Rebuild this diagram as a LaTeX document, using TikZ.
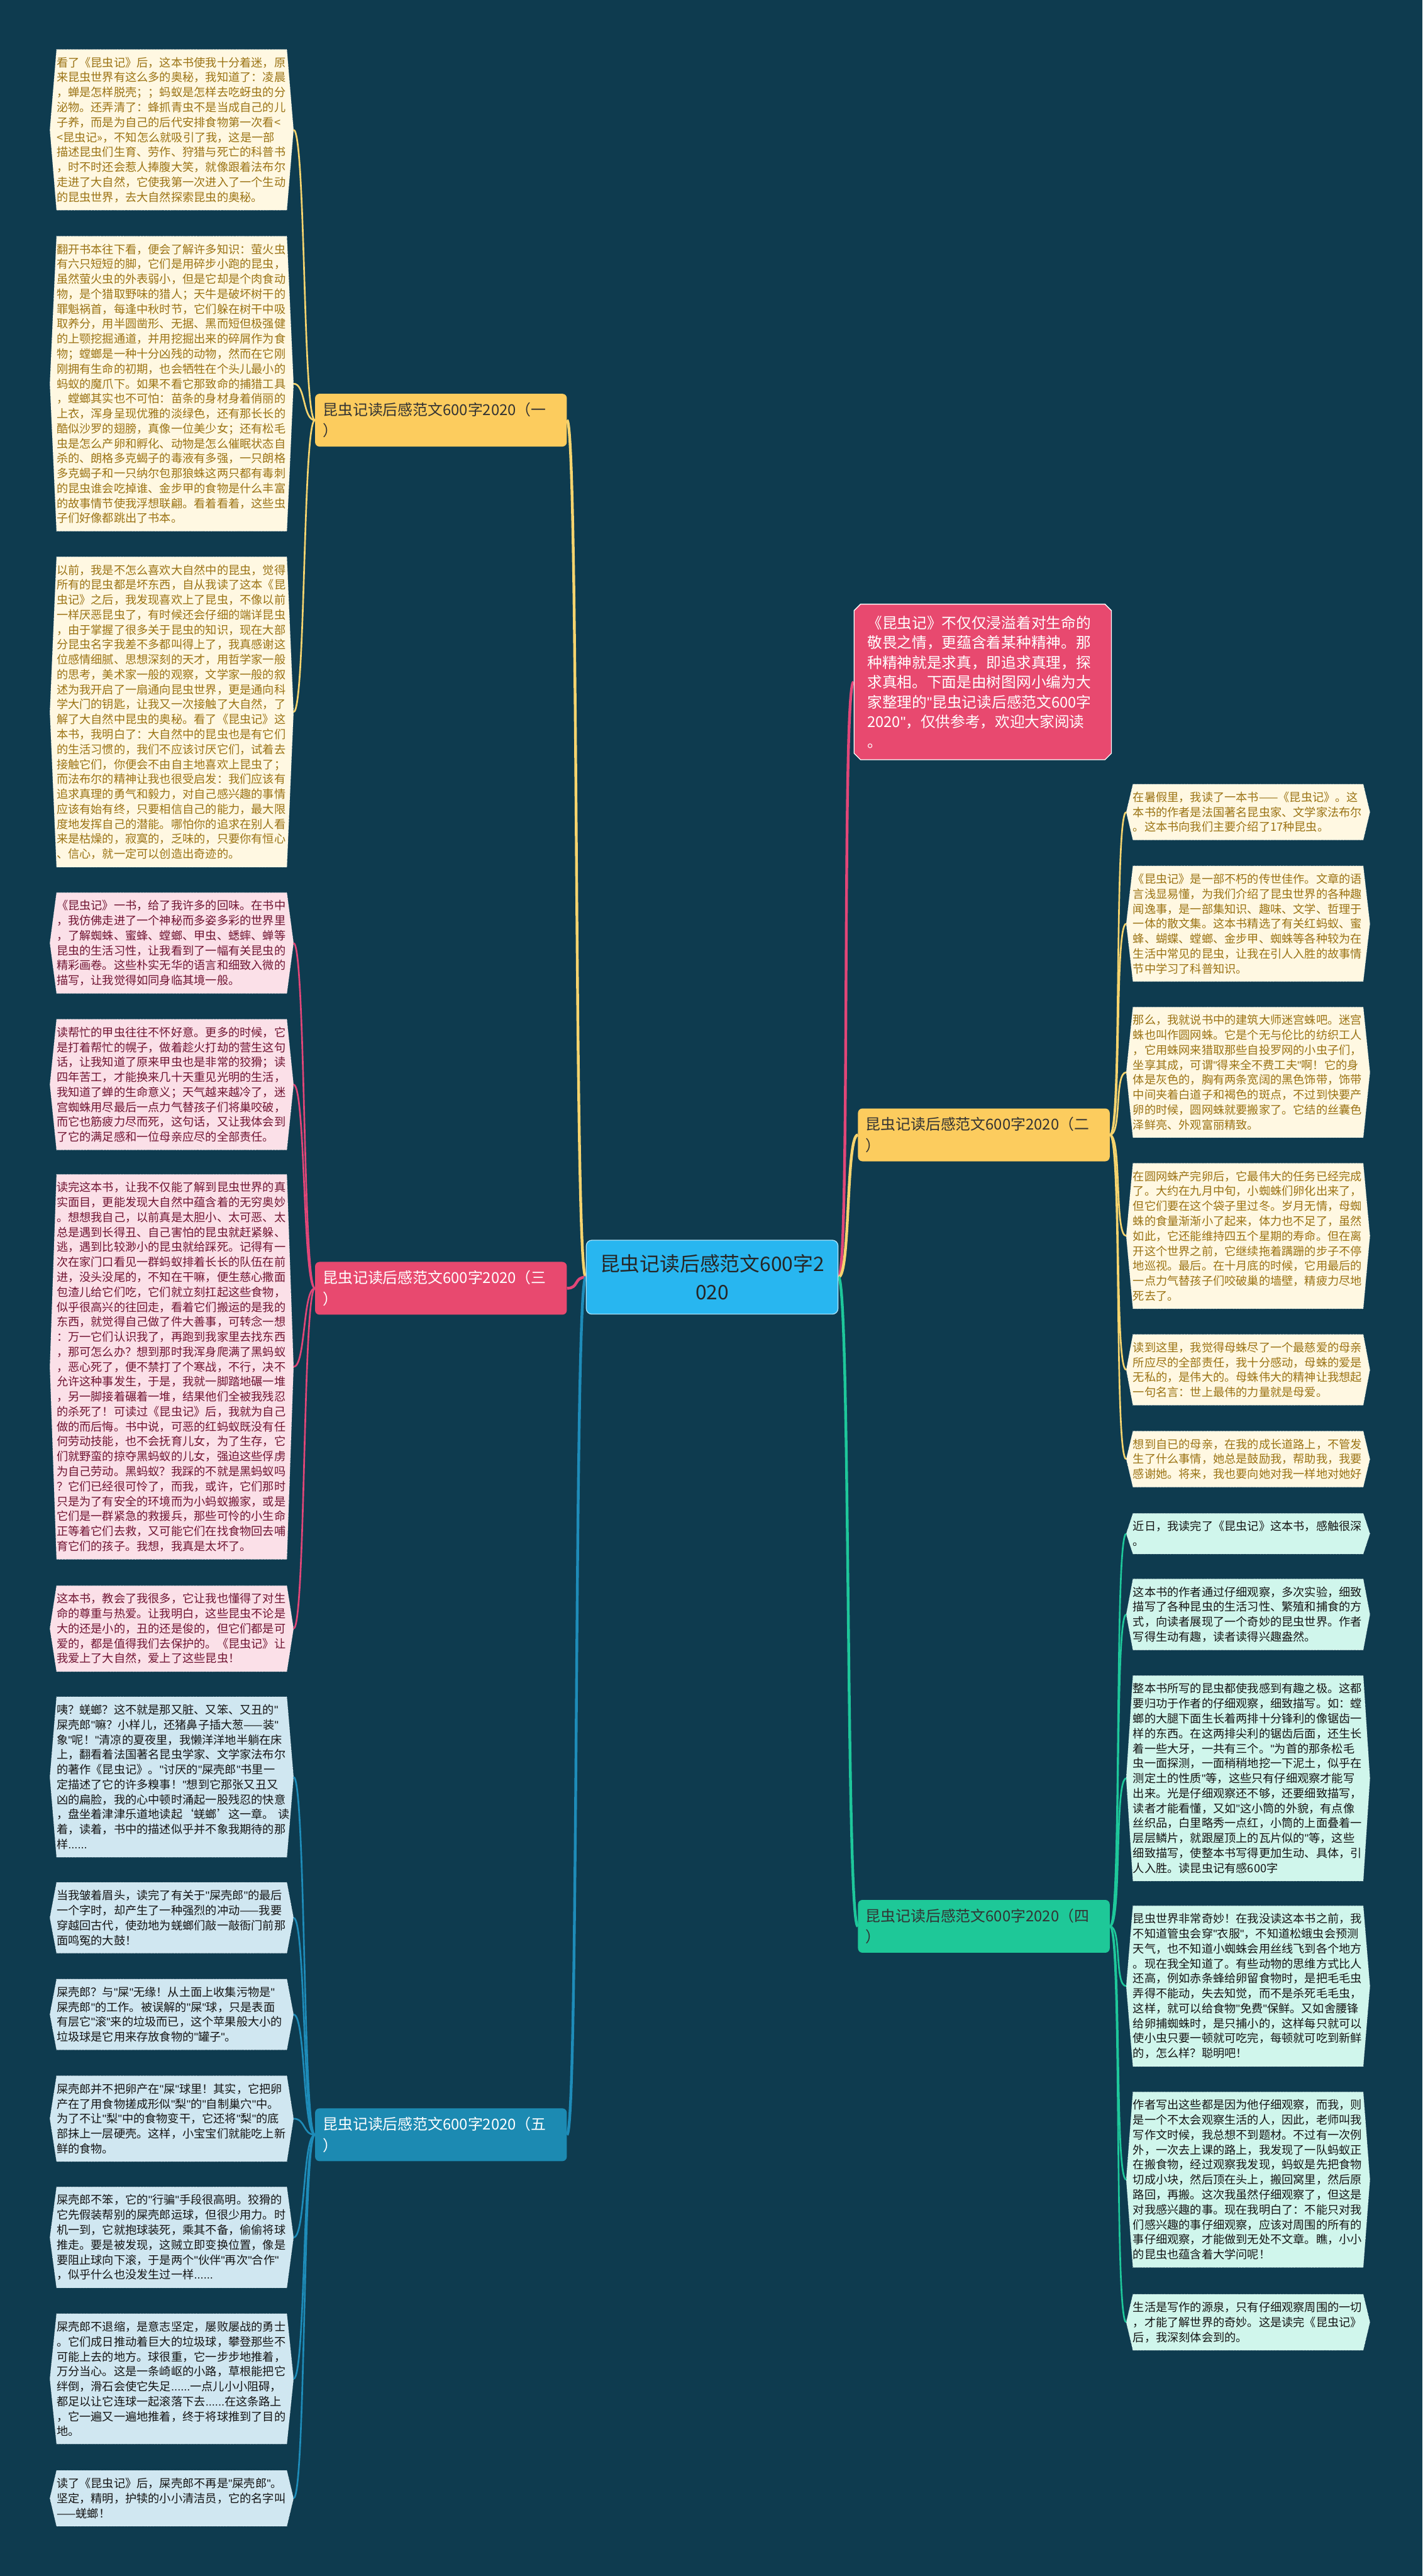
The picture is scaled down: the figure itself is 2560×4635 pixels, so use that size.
\documentclass[tikz,border=0pt]{standalone}
\usepackage{fontspec}
\setmainfont{Noto Sans CJK SC}
\newfontfamily\latinf{Liberation Sans}
\XeTeXdashbreakstate=0
\usetikzlibrary{backgrounds,shapes.misc}
\definecolor{bgc}{RGB}{14,59,79}
\definecolor{fillyl}{RGB}{255,248,226}
\definecolor{txtyl}{RGB}{155,115,20}
\definecolor{fillpk}{RGB}{251,224,232}
\definecolor{txtpk}{RGB}{112,20,50}
\definecolor{fillbl}{RGB}{208,231,241}
\definecolor{txtbl}{RGB}{20,20,20}
\definecolor{fillgr}{RGB}{208,246,236}
\definecolor{txtgr}{RGB}{20,20,20}
\definecolor{lnyl}{RGB}{246,212,110}
\definecolor{lnpk}{RGB}{226,70,120}
\definecolor{lnbl}{RGB}{30,140,185}
\definecolor{lngr}{RGB}{30,200,155}
\definecolor{rootc}{RGB}{40,182,240}
\definecolor{brpk}{RGB}{232,73,111}
\definecolor{bryl}{RGB}{252,204,94}
\definecolor{brbl}{RGB}{28,138,178}
\definecolor{brgr}{RGB}{30,200,152}
\newcommand\q{{\latinf"}}
\newcommand\sixdots{{\latinf......}}
\newcommand\leaffont{\fontsize{20.6bp}{26.9bp}\selectfont}
\newcommand\leafbox[5]{%
  \node[leafnode, text=txt#4] (#1) at (#2,#3) {#5};
  \coordinate (#1-r) at ([xshift=12bp]#1.east);
  \coordinate (#1-l) at ([xshift=-12bp]#1.west);
  \begin{scope}[on background layer]
    \path[fill=fill#4, draw=white, dotted, line width=0.8bp]
      (#1.north west) -- (#1.north east) -- (#1-r) -- (#1.south east)
      -- (#1.south west) -- (#1-l) -- cycle;
  \end{scope}
}
\begin{document}
\begin{tikzpicture}[x=1bp,y=-1bp,
  leafnode/.style={anchor=north, text width=414bp, inner xsep=0pt, inner ysep=13.5bp, align=left, font=\leaffont},
  branchnode/.style={rounded corners=8bp, minimum width=453bp, minimum height=95bp, text width=425bp, inner xsep=14bp, align=left, font=\fontsize{27bp}{38bp}\selectfont},
  conn/.style={line width=3bp},
  mainconn/.style={line width=5bp}]
\begin{scope}[on background layer]
\fill[bgc] (0,0) rectangle (2560,4635);
\end{scope}
\useasboundingbox (0,0) rectangle (2560,4635);

% root and branches
\node[rounded corners=10bp, fill=rootc, draw=white!60!rootc, line width=1.5bp, minimum width=453bp, minimum height=133bp, text width=420bp, align=center, font=\fontsize{36bp}{50bp}\selectfont, text=black!85] (root) at (1281.5,2298) {昆虫记读后感范文600字2\\020};
\node[branchnode, fill=bryl, text=black!80] (b1) at (793.5,756) {昆虫记读后感范文600字2020（一\\）};
\node[branchnode, fill=brpk, text=white] (b3) at (793.5,2318) {昆虫记读后感范文600字2020（三\\）};
\node[branchnode, fill=brbl, text=white] (b5) at (793.5,3841) {昆虫记读后感范文600字2020（五\\）};
\node[branchnode, fill=bryl, text=black!80] (b2) at (1770.5,2042) {昆虫记读后感范文600字2020（二\\）};
\node[branchnode, fill=brgr, text=black!80] (b4) at (1770.5,3466) {昆虫记读后感范文600字2020（四\\）};
\node[chamfered rectangle, chamfered rectangle xsep=8bp, fill=brpk, draw=white, line width=1.5bp, minimum width=447bp, minimum height=280bp, text width=415bp, inner xsep=16bp, align=left, text=white, font=\fontsize{26.8bp}{35.7bp}\selectfont] (intro) at (1768.5,1227) {《昆虫记》不仅仅浸溢着对生命的\\敬畏之情，更蕴含着某种精神。那\\种精神就是求真，即追求真理，探\\求真相。下面是由树图网小编为大\\家整理的\q{}昆虫记读后感范文600字\\2020\q{}，仅供参考，欢迎大家阅读\\。};

% left leaves
\leafbox{L1}{309}{89}{yl}{看了《昆虫记》后，这本书使我十分着迷，原\\来昆虫世界有这么多的奥秘，我知道了：凌晨\\，蝉是怎样脱壳；；蚂蚁是怎样去吃蚜虫的分\\泌物。还弄清了：蜂抓青虫不是当成自己的儿\\子养，而是为自己的后代安排食物第一次看<\\<昆虫记>>，不知怎么就吸引了我，这是一部\\描述昆虫们生育、劳作、狩猎与死亡的科普书\\，时不时还会惹人捧腹大笑，就像跟着法布尔\\走进了大自然，它使我第一次进入了一个生动\\的昆虫世界，去大自然探索昆虫的奥秘。}
\leafbox{L2}{309}{425}{yl}{翻开书本往下看，便会了解许多知识：萤火虫\\有六只短短的脚，它们是用碎步小跑的昆虫，\\虽然萤火虫的外表弱小，但是它却是个肉食动\\物，是个猎取野味的猎人；天牛是破坏树干的\\罪魁祸首，每逢中秋时节，它们躲在树干中吸\\取养分，用半圆凿形、无据、黑而短但极强健\\的上颚挖掘通道，并用挖掘出来的碎屑作为食\\物；螳螂是一种十分凶残的动物，然而在它刚\\刚拥有生命的初期，也会牺牲在个头儿最小的\\蚂蚁的魔爪下。如果不看它那致命的捕猎工具\\，螳螂其实也不可怕：苗条的身材身着俏丽的\\上衣，浑身呈现优雅的淡绿色，还有那长长的\\酷似沙罗的翅膀，真像一位美少女；还有松毛\\虫是怎么产卵和孵化、动物是怎么催眠状态自\\杀的、朗格多克蝎子的毒液有多强，一只朗格\\多克蝎子和一只纳尔包那狼蛛这两只都有毒刺\\的昆虫谁会吃掉谁、金步甲的食物是什么丰富\\的故事情节使我浮想联翩。看着看着，这些虫\\子们好像都跳出了书本。}
\leafbox{L3}{309}{1002}{yl}{以前，我是不怎么喜欢大自然中的昆虫，觉得\\所有的昆虫都是坏东西，自从我读了这本《昆\\虫记》之后，我发现喜欢上了昆虫，不像以前\\一样厌恶昆虫了，有时候还会仔细的端详昆虫\\，由于掌握了很多关于昆虫的知识，现在大部\\分昆虫名字我差不多都叫得上了，我真感谢这\\位感情细腻、思想深刻的天才，用哲学家一般\\的思考，美术家一般的观察，文学家一般的叙\\述为我开启了一扇通向昆虫世界，更是通向科\\学大门的钥匙，让我又一次接触了大自然，了\\解了大自然中昆虫的奥秘。看了《昆虫记》这\\本书，我明白了：大自然中的昆虫也是有它们\\的生活习惯的，我们不应该讨厌它们，试着去\\接触它们，你便会不由自主地喜欢上昆虫了；\\而法布尔的精神让我也很受启发：我们应该有\\追求真理的勇气和毅力，对自己感兴趣的事情\\应该有始有终，只要相信自己的能力，最大限\\度地发挥自己的潜能。哪怕你的追求在别人看\\来是枯燥的，寂寞的，乏味的，只要你有恒心\\、信心，就一定可以创造出奇迹的。}
\leafbox{L4}{309}{1606}{pk}{《昆虫记》一书，给了我许多的回味。在书中\\，我仿佛走进了一个神秘而多姿多彩的世界里\\，了解蜘蛛、蜜蜂、螳螂、甲虫、蟋蟀、蝉等\\昆虫的生活习性，让我看到了一幅有关昆虫的\\精彩画卷。这些朴实无华的语言和细致入微的\\描写，让我觉得如同身临其境一般。}
\leafbox{L5}{309}{1834}{pk}{读帮忙的甲虫往往不怀好意。更多的时候，它\\是打着帮忙的幌子，做着趁火打劫的营生这句\\话，让我知道了原来甲虫也是非常的狡猾；读\\四年苦工，才能换来几十天重见光明的生活，\\我知道了蝉的生命意义；天气越来越冷了，迷\\宫蜘蛛用尽最后一点力气替孩子们将巢咬破，\\而它也筋疲力尽而死，这句话，又让我体会到\\了它的满足感和一位母亲应尽的全部责任。}
\leafbox{L6}{309}{2113}{pk}{读完这本书，让我不仅能了解到昆虫世界的真\\实面目，更能发现大自然中蕴含着的无穷奥妙\\。想想我自己，以前真是太胆小、太可恶、太\\总是遇到长得丑、自己害怕的昆虫就赶紧躲、\\逃，遇到比较渺小的昆虫就给踩死。记得有一\\次在家门口看见一群蚂蚁排着长长的队伍在前\\进，没头没尾的，不知在干嘛，便生慈心撒面\\包渣儿给它们吃，它们就立刻扛起这些食物，\\似乎很高兴的往回走，看着它们搬运的是我的\\东西，就觉得自己做了件大善事，可转念一想\\：万一它们认识我了，再跑到我家里去找东西\\，那可怎么办？想到那时我浑身爬满了黑蚂蚁\\，恶心死了，便不禁打了个寒战，不行，决不\\允许这种事发生，于是，我就一脚踏地碾一堆\\，另一脚接着碾着一堆，结果他们全被我残忍\\的杀死了！可读过《昆虫记》后，我就为自己\\做的而后悔。书中说，可恶的红蚂蚁既没有任\\何劳动技能，也不会抚育儿女，为了生存，它\\们就野蛮的掠夺黑蚂蚁的儿女，强迫这些俘虏\\为自己劳动。黑蚂蚁？我踩的不就是黑蚂蚁吗\\？它们已经很可怜了，而我，或许，它们那时\\只是为了有安全的环境而为小蚂蚁搬家，或是\\它们是一群紧急的救援兵，那些可怜的小生命\\正等着它们去救，又可能它们在找食物回去哺\\育它们的孩子。我想，我真是太坏了。}
\leafbox{L7}{309}{2853}{pk}{这本书，教会了我很多，它让我也懂得了对生\\命的尊重与热爱。让我明白，这些昆虫不论是\\大的还是小的，丑的还是俊的，但它们都是可\\爱的，都是值得我们去保护的。《昆虫记》让\\我爱上了大自然，爱上了这些昆虫！}
\leafbox{L8}{309}{3053}{bl}{咦？蜣螂？这不就是那又脏、又笨、又丑的\q{}\\屎壳郎\q{}嘛？小样儿，还猪鼻子插大葱——装\q{}\\象\q{}呢！\q{}清凉的夏夜里，我懒洋洋地半躺在床\\上，翻看着法国著名昆虫学家、文学家法布尔\\的著作《昆虫记》。\q{}讨厌的\q{}屎壳郎\q{}书里一\\定描述了它的许多糗事！\q{}想到它那张又丑又\\凶的扁脸，我的心中顿时涌起一股残忍的快意\\，盘坐着津津乐道地读起‘蜣螂’这一章。~读\\着，读着，书中的描述似乎并不象我期待的那\\样\sixdots}
\leafbox{L9}{309}{3387}{bl}{当我皱着眉头，读完了有关于\q{}屎壳郎\q{}的最后\\一个字时，却产生了一种强烈的冲动——我要\\穿越回古代，使劲地为蜣螂们敲一敲衙门前那\\面鸣冤的大鼓！}
\leafbox{L10}{309}{3561}{bl}{屎壳郎？与\q{}屎\q{}无缘！从土面上收集污物是\q{}\\屎壳郎\q{}的工作。被误解的\q{}屎\q{}球，只是表面\\有层它\q{}滚\q{}来的垃圾而已，这个苹果般大小的\\垃圾球是它用来存放食物的\q{}罐子\q{}。}
\leafbox{L11}{309}{3735}{bl}{屎壳郎并不把卵产在\q{}屎\q{}球里！其实，它把卵\\产在了用食物搓成形似\q{}梨\q{}的\q{}自制巢穴\q{}中。\\为了不让\q{}梨\q{}中的食物变干，它还将\q{}梨\q{}的底\\部抹上一层硬壳。这样，小宝宝们就能吃上新\\鲜的食物。}
\leafbox{L12}{309}{3935}{bl}{屎壳郎不笨，它的\q{}行骗\q{}手段很高明。狡猾的\\它先假装帮别的屎壳郎运球，但很少用力。时\\机一到，它就抱球装死，乘其不备，偷偷将球\\推走。要是被发现，这贼立即变换位置，像是\\要阻止球向下滚，于是两个\q{}伙伴\q{}再次\q{}合作\q{}\\，似乎什么也没发生过一样\sixdots}
\leafbox{L13}{309}{4163}{bl}{屎壳郎不退缩，是意志坚定，屡败屡战的勇士\\。它们成日推动着巨大的垃圾球，攀登那些不\\可能上去的地方。球很重，它一步步地推着，\\万分当心。这是一条崎岖的小路，草根能把它\\绊倒，滑石会使它失足\sixdots 一点儿小小阻碍，\\都足以让它连球一起滚落下去\sixdots 在这条路上\\，它一遍又一遍地推着，终于将球推到了目的\\地。}
\leafbox{L14}{309}{4445}{bl}{读了《昆虫记》后，屎壳郎不再是\q{}屎壳郎\q{}。\\坚定，精明，护犊的小小清洁员，它的名字叫\\——蜣螂！}

% right leaves
\leafbox{R1}{2246}{1411}{yl}{在暑假里，我读了一本书——《昆虫记》。这\\本书的作者是法国著名昆虫家、文学家法布尔\\。这本书向我们主要介绍了17种昆虫。}
\leafbox{R2}{2246}{1558}{yl}{《昆虫记》是一部不朽的传世佳作。文章的语\\言浅显易懂，为我们介绍了昆虫世界的各种趣\\闻逸事，是一部集知识、趣味、文学、哲理于\\一体的散文集。这本书精选了有关红蚂蚁、蜜\\蜂、蝴蝶、螳螂、金步甲、蜘蛛等各种较为在\\生活中常见的昆虫，让我在引人入胜的故事情\\节中学习了科普知识。}
\leafbox{R3}{2246}{1812}{yl}{那么，我就说书中的建筑大师迷宫蛛吧。迷宫\\蛛也叫作圆网蛛。它是个无与伦比的纺织工人\\，它用蛛网来猎取那些自投罗网的小虫子们，\\坐享其成，可谓\q{}得来全不费工夫\q{}啊！它的身\\体是灰色的，胸有两条宽阔的黑色饰带，饰带\\中间夹着白道子和褐色的斑点，不过到快要产\\卵的时候，圆网蛛就要搬家了。它结的丝囊色\\泽鲜亮、外观富丽精致。}
\leafbox{R4}{2246}{2093}{yl}{在圆网蛛产完卵后，它最伟大的任务已经完成\\了。大约在九月中旬，小蜘蛛们卵化出来了，\\但它们要在这个袋子里过冬。岁月无情，母蜘\\蛛的食量渐渐小了起来，体力也不足了，虽然\\如此，它还能维持四五个星期的寿命。但在离\\开这个世界之前，它继续拖着蹒跚的步子不停\\地巡视。最后。在十月底的时候，它用最后的\\一点力气替孩子们咬破巢的墙壁，精疲力尽地\\死去了。}
\leafbox{R5}{2246}{2401}{yl}{读到这里，我觉得母蛛尽了一个最慈爱的母亲\\所应尽的全部责任，我十分感动，母蛛的爱是\\无私的，是伟大的。母蛛伟大的精神让我想起\\一句名言：世上最伟的力量就是母爱。}
\leafbox{R6}{2246}{2575}{yl}{想到自已的母亲，在我的成长道路上，不管发\\生了什么事情，她总是鼓励我，帮助我，我要\\感谢她。将来，我也要向她对我一样地对她好}
\leafbox{R7}{2246}{2723}{gr}{近日，我读完了《昆虫记》这本书，感触很深\\。}
\leafbox{R8}{2246}{2841}{gr}{这本书的作者通过仔细观察，多次实验，细致\\描写了各种昆虫的生活习性、繁殖和捕食的方\\式，向读者展现了一个奇妙的昆虫世界。作者\\写得生动有趣，读者读得兴趣盎然。}
\leafbox{R9}{2246}{3015}{gr}{整本书所写的昆虫都使我感到有趣之极。这都\\要归功于作者的仔细观察，细致描写。如：螳\\螂的大腿下面生长着两排十分锋利的像锯齿一\\样的东西。在这两排尖利的锯齿后面，还生长\\着一些大牙，一共有三个。\q{}为首的那条松毛\\虫一面探测，一面稍稍地挖一下泥土，似乎在\\测定土的性质\q{}等，这些只有仔细观察才能写\\出来。光是仔细观察还不够，还要细致描写，\\读者才能看懂，又如\q{}这小筒的外貌，有点像\\丝织品，白里略秀一点红，小筒的上面叠着一\\层层鳞片，就跟屋顶上的瓦片似的\q{}等，这些\\细致描写，使整本书写得更加生动、具体，引\\人入胜。读昆虫记有感600字}
\leafbox{R10}{2246}{3429}{gr}{昆虫世界非常奇妙！在我没读这本书之前，我\\不知道管虫会穿\q{}衣服\q{}，不知道松蛾虫会预测\\天气，也不知道小蜘蛛会用丝线飞到各个地方\\。现在我全知道了。有些动物的思维方式比人\\还高，例如赤条蜂给卵留食物时，是把毛毛虫\\弄得不能动，失去知觉，而不是杀死毛毛虫，\\这样，就可以给食物\q{}免费\q{}保鲜。又如舍腰锋\\给卵捕蜘蛛时，是只捕小的，这样每只就可以\\使小虫只要一顿就可吃完，每顿就可吃到新鲜\\的，怎么样？聪明吧！}
\leafbox{R11}{2246}{3764}{gr}{作者写出这些都是因为他仔细观察，而我，则\\是一个不太会观察生活的人，因此，老师叫我\\写作文时候，我总想不到题材。不过有一次例\\外，一次去上课的路上，我发现了一队蚂蚁正\\在搬食物，经过观察我发现，蚂蚁是先把食物\\切成小块，然后顶在头上，搬回窝里，然后原\\路回，再搬。这次我虽然仔细观察了，但这是\\对我感兴趣的事。现在我明白了：不能只对我\\们感兴趣的事仔细观察，应该对周围的所有的\\事仔细观察，才能做到无处不文章。瞧，小小\\的昆虫也蕴含着大学问呢！}
\leafbox{R12}{2246}{4128}{gr}{生活是写作的源泉，只有仔细观察周围的一切\\，才能了解世界的奇妙。这是读完《昆虫记》\\后，我深刻体会到的。}

% connectors root -> branches
\begin{scope}[on background layer]
\draw[mainconn,lnyl] (root.west) .. controls +(-22,0) and +(22,0) .. (b1.east);
\draw[mainconn,lnpk] (root.west) .. controls +(-22,0) and +(22,0) .. (b3.east);
\draw[mainconn,lnbl] (root.west) .. controls +(-22,0) and +(22,0) .. (b5.east);
\draw[mainconn,lnpk] (root.east) .. controls +(22,0) and +(-22,0) .. (intro.west);
\draw[mainconn,lnyl] (root.east) .. controls +(22,0) and +(-22,0) .. (b2.west);
\draw[mainconn,lngr] (root.east) .. controls +(22,0) and +(-22,0) .. (b4.west);
\end{scope}
% branches -> leaves
\foreach \l in {L1,L2,L3} \draw[conn,lnyl] (b1.west) .. controls +(-22,0) and +(22,0) .. (\l-r);
\foreach \l in {L4,L5,L6,L7} \draw[conn,lnpk] (b3.west) .. controls +(-22,0) and +(22,0) .. (\l-r);
\foreach \l in {L8,L9,L10,L11,L12,L13,L14} \draw[conn,lnbl] (b5.west) .. controls +(-22,0) and +(22,0) .. (\l-r);
\foreach \r in {R1,R2,R3,R4,R5,R6} \draw[conn,lnyl] (b2.east) .. controls +(22,0) and +(-22,0) .. (\r-l);
\foreach \r in {R7,R8,R9,R10,R11,R12} \draw[conn,lngr] (b4.east) .. controls +(22,0) and +(-22,0) .. (\r-l);
\end{tikzpicture}
\end{document}
